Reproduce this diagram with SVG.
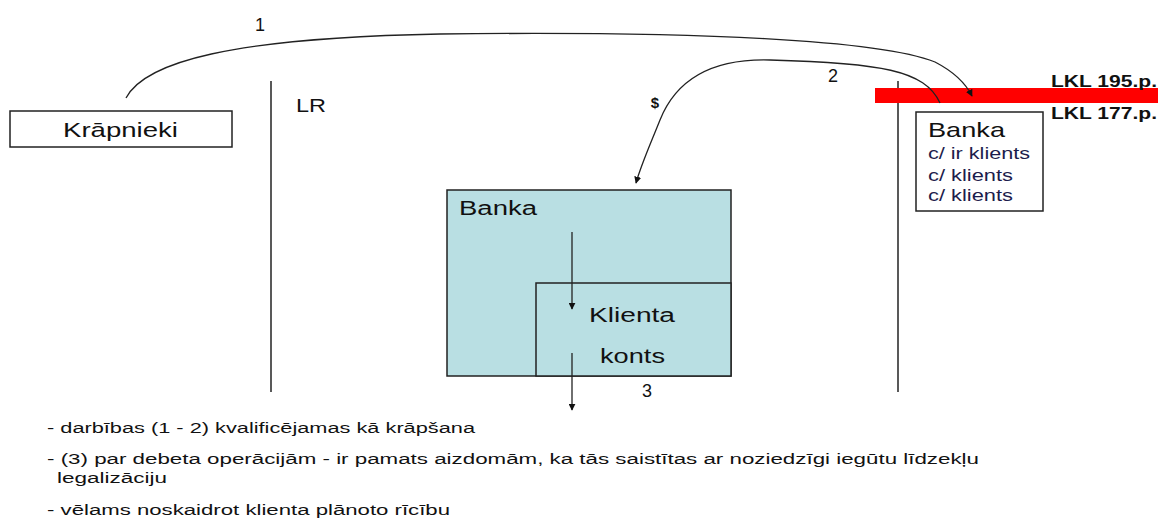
<svg xmlns="http://www.w3.org/2000/svg" width="1161" height="519" viewBox="0 0 1161 519">
<style>
text{font-family:"Liberation Sans",Arial,sans-serif;fill:#111}
.box{fill:#fff;stroke:#222;stroke-width:1.5}
.vl{stroke:#222;stroke-width:1.5}
.con{fill:none;stroke:#222;stroke-width:1.3}
.note{font-size:14px}
.sm{font-size:16px;fill:#1c1c4c}
</style>
<defs>
<marker id="ah" viewBox="0 0 10 10" refX="9" refY="5" markerWidth="7" markerHeight="7" orient="auto" markerUnits="userSpaceOnUse"><path d="M0,0 L10,5 L0,10 z" fill="#111"/></marker>
</defs>
<rect width="1161" height="519" fill="#fff"/>
<line class="vl" x1="271" y1="81" x2="271" y2="392"/>
<line class="vl" x1="898" y1="81" x2="898" y2="392"/>
<rect x="875" y="88" width="283" height="15" fill="#ff0000"/>
<text x="296" y="112" font-size="18" textLength="30" lengthAdjust="spacingAndGlyphs">LR</text>
<g id="krapnieki">
<rect class="box" x="10" y="111" width="222" height="36"/>
<text x="63" y="137" font-size="21" textLength="115" lengthAdjust="spacingAndGlyphs">Krāpnieki</text>
</g>
<g id="banka-main">
<rect x="447" y="190" width="284" height="186" fill="#b9dfe3" stroke="#222" stroke-width="1.5"/>
<text x="459" y="215" font-size="20" textLength="78" lengthAdjust="spacingAndGlyphs">Banka</text>
</g>
<g id="klienta-konts">
<rect x="536" y="283" width="195" height="93" fill="#b9dfe3" stroke="#222" stroke-width="1.5"/>
<text x="589" y="322" font-size="20" textLength="86" lengthAdjust="spacingAndGlyphs">Klienta</text>
<text x="600" y="363" font-size="20" textLength="65" lengthAdjust="spacingAndGlyphs">konts</text>
</g>
<g id="banka-right">
<rect class="box" x="916" y="112" width="127" height="99"/>
<text x="928" y="137" font-size="21" textLength="77" lengthAdjust="spacingAndGlyphs">Banka</text>
<text class="sm" x="928" y="159" textLength="102" lengthAdjust="spacingAndGlyphs">c/ ir klients</text>
<text class="sm" x="928" y="181" textLength="85" lengthAdjust="spacingAndGlyphs">c/ klients</text>
<text class="sm" x="928" y="201" textLength="85" lengthAdjust="spacingAndGlyphs">c/ klients</text>
</g>
<g id="labels">
<text x="1051" y="87" font-size="16" font-weight="bold" textLength="106" lengthAdjust="spacingAndGlyphs">LKL 195.p.</text>
<text x="1051" y="119" font-size="16" font-weight="bold" textLength="106" lengthAdjust="spacingAndGlyphs">LKL 177.p.</text>
<text x="260" y="31" font-size="18" text-anchor="middle">1</text>
<text x="833" y="82" font-size="18" text-anchor="middle">2</text>
<text x="655" y="108" font-size="15" font-weight="bold" text-anchor="middle">$</text>
<text x="647" y="397" font-size="18" text-anchor="middle">3</text>
</g>
<g id="connectors">
<path class="con" d="M126,98 C145,62 230,38 440,34 C700,31 880,40 935,62 Q962,76 972,96" marker-end="url(#ah)"/>
<path class="con" d="M940,103 C925,70 880,63 770,60 C700,58 672,90 660,120 C650,145 641,165 636,183" marker-end="url(#ah)"/>
<line class="con" x1="572" y1="232" x2="572" y2="309" marker-end="url(#ah)"/>
<line class="con" x1="572" y1="353" x2="572" y2="410" marker-end="url(#ah)"/>
</g>
<g id="notes">
<text class="note" x="47" y="433" textLength="428" lengthAdjust="spacingAndGlyphs">- darbības (1 - 2) kvalificējamas kā krāpšana</text>
<text class="note" x="47" y="464" textLength="932" lengthAdjust="spacingAndGlyphs">- (3) par  debeta operācijām -  ir pamats aizdomām, ka tās saistītas ar noziedzīgi iegūtu līdzekļu</text>
<text class="note" x="57" y="483" textLength="110" lengthAdjust="spacingAndGlyphs">legalizāciju</text>
<text class="note" x="47" y="515" textLength="403" lengthAdjust="spacingAndGlyphs">- vēlams noskaidrot klienta plānoto rīcību</text>
</g>
</svg>
